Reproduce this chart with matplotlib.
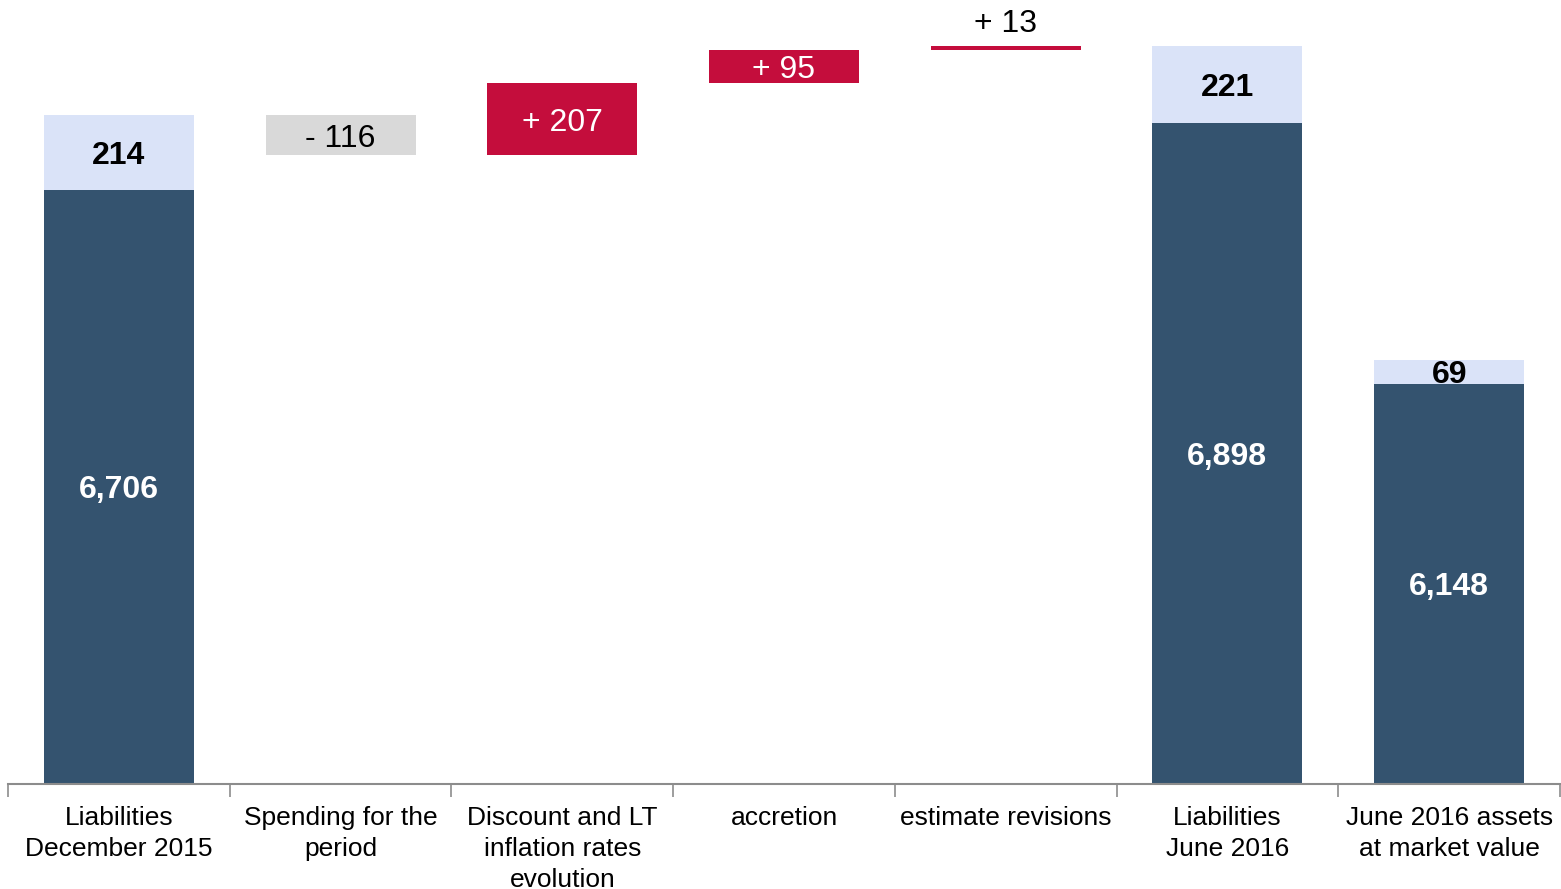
import matplotlib.pyplot as plt

# categories and values (EUR m)
categories = [
    "Liabilities\nDecember 2015",
    "Spending for the\nperiod",
    "Discount and LT\ninflation rates\nevolution",
    "accretion",
    "estimate revisions",
    "Liabilities\nJune 2016",
    "June 2016 assets\nat market value",
]
start_main = 6706
start_top = 214
changes = [-116, 207, 95, 13]
end_main = 6898
end_top = 221
assets_main = 6148
assets_top = 69

NAVY = "#34536f"
LIGHT = "#dae3f8"
RED = "#c40d3c"
GREY = "#d9d9d9"
AXIS = "#8c8c8c"

plt.rcParams["font.family"] = ["Liberation Sans", "DejaVu Sans"]

fig = plt.figure(figsize=(15.61, 8.89), dpi=100)
ax = fig.add_axes([8 / 1561, 105 / 889, 1552 / 1561, 784 / 889])

width = 0.677
x = list(range(len(categories)))
VAL_FS = 23


def stacked(ax, xi, main, top):
    ax.bar(xi, main, width, bottom=0, color=NAVY, zorder=2)
    ax.bar(xi, top, width, bottom=main, color=LIGHT, zorder=2)
    ax.text(xi, (5000 + main) / 2, f"{main:,}", ha="center",
            va="center_baseline", color="white", fontsize=VAL_FS,
            fontweight="bold")
    ax.text(xi, main + top / 2, f"{top:,}", ha="center",
            va="center_baseline", color="black", fontsize=VAL_FS,
            fontweight="bold")


stacked(ax, x[0], start_main, start_top)

# floating change bars
level = start_main + start_top
for i, d in enumerate(changes, start=1):
    lo = level + min(d, 0)
    color = GREY if d < 0 else RED
    ax.bar(x[i], abs(d), width, bottom=lo, color=color, zorder=2)
    sign = "-" if d < 0 else "+"
    label = f"{sign} {abs(d)}"
    if abs(d) < 40:
        ax.text(x[i], lo + abs(d) + 72, label, ha="center",
                va="center_baseline", color="black", fontsize=VAL_FS)
    else:
        ax.text(x[i], lo + abs(d) / 2, label, ha="center",
                va="center_baseline",
                color="black" if d < 0 else "white", fontsize=VAL_FS)
    level += d

stacked(ax, x[5], end_main, end_top)
stacked(ax, x[6], assets_main, assets_top)

ax.set_ylim(5000, 7250)
ax.set_xlim(-0.5, len(categories) - 0.5)
for s in ["top", "right", "left"]:
    ax.spines[s].set_visible(False)
ax.spines["bottom"].set_color(AXIS)
ax.spines["bottom"].set_linewidth(1.5)
ax.set_yticks([])

# category boundary ticks
ax.set_xticks([i - 0.5 for i in range(len(categories) + 1)])
ax.set_xticklabels([])
ax.tick_params(axis="x", length=9, width=1.2, color=AXIS, direction="out")
ax.set_xticks(x, minor=True)
ax.set_xticklabels(categories, minor=True, fontsize=19, linespacing=1.35)
ax.tick_params(axis="x", which="minor", length=0, pad=16)
for lbl in ax.get_xticklabels(minor=True):
    lbl.set_verticalalignment("top")

fig.savefig("out.png", dpi=100)
